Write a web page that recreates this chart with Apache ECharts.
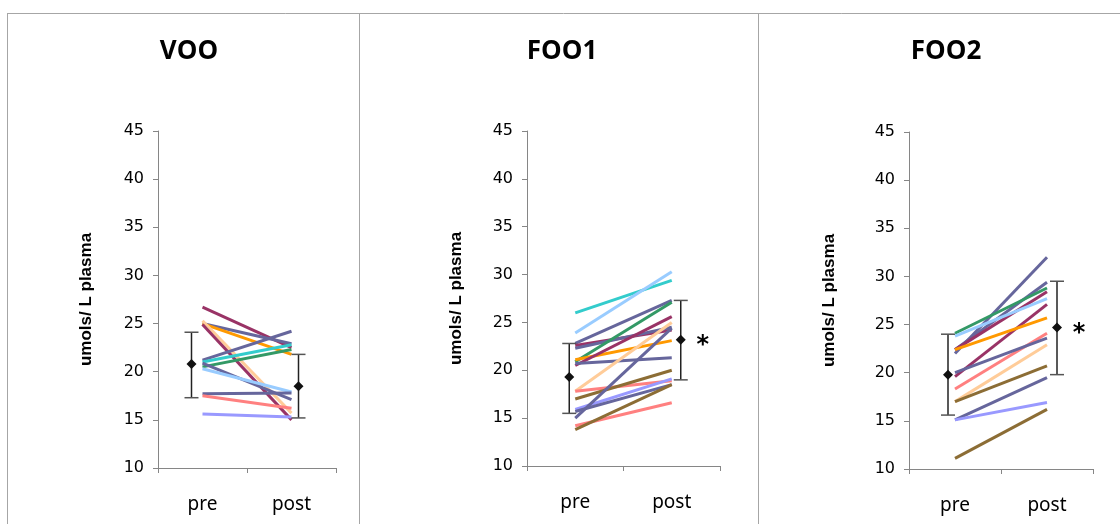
<!DOCTYPE html>
<html><head><meta charset="utf-8">
<script src="https://cdn.jsdelivr.net/npm/echarts@6/dist/echarts.min.js"></script>
<style>html,body{margin:0;padding:0;background:#fff}#c{width:1120px;height:524px}</style>
</head><body><div id="c"></div>
<script>
// ---- data ----
const categories = ['pre', 'post'];
const panelTitles = ['VOO', 'FOO1', 'FOO2'];
const yAxisName = 'umols/ L plasma';
const yMin = 10, yMax = 45, yStep = 5;

// VOO: individual subjects
const vooPre  = [26.7, 25.0, 25.0, 25.3, 24.9, 21.2, 21.0, 20.5, 20.9, 20.3, 17.7, 17.5, 15.6];
const vooPost = [22.5, 22.9, 21.8, 15.7, 15.0, 24.2, 22.8, 22.3, 17.1, 17.9, 17.8, 16.2, 15.3];
// FOO1
const foo1Pre  = [26.0, 23.9, 22.8, 22.6, 22.3, 20.9, 21.1, 20.5, 20.7, 17.8, 17.8, 17.0, 15.9, 15.7, 15.0, 14.2, 13.8];
const foo1Post = [29.4, 30.3, 27.3, 24.2, 24.5, 27.1, 23.1, 25.6, 21.3, 25.0, 18.9, 20.0, 19.1, 18.5, 24.4, 16.6, 18.5];
// FOO2
const foo2Pre  = [22.0, 22.4, 24.1, 22.4, 23.8, 19.6, 22.4, 18.3, 20.0, 17.0, 17.0, 15.1, 15.1, 11.1];
const foo2Post = [32.0, 29.4, 28.8, 28.4, 27.7, 27.1, 25.7, 24.1, 23.6, 22.9, 20.7, 19.5, 16.9, 16.2];

// group means with error bars [pre, post]
const vooMean  = [20.8, 18.5]; const vooLow  = [17.3, 15.2]; const vooHigh  = [24.1, 21.8];
const foo1Mean = [19.3, 23.2]; const foo1Low = [15.5, 19.0]; const foo1High = [22.8, 27.3];
const foo2Mean = [19.8, 24.7]; const foo2Low = [15.6, 19.8]; const foo2High = [24.0, 29.5];
const significantPost = [false, true, true];

// ---- styles ----
const C = {slate:'#66669c', maroon:'#993366', teal:'#33cccc', green:'#339966', orange:'#ff9900',
  peach:'#ffcc99', lblue:'#99ccff', salmon:'#ff8080', lav:'#9999ff', brown:'#8c6d35'};
const vooColors  = [C.maroon, C.slate, C.orange, C.peach, C.maroon, C.slate, C.teal, C.green, C.slate, C.lblue, C.slate, C.salmon, C.lav];
const foo1Colors = [C.teal, C.lblue, C.slate, C.maroon, C.slate, C.green, C.orange, C.maroon, C.slate, C.peach, C.salmon, C.brown, C.lav, C.slate, C.slate, C.salmon, C.brown];
const foo2Colors = [C.slate, C.slate, C.green, C.maroon, C.lblue, C.maroon, C.orange, C.salmon, C.slate, C.peach, C.brown, C.slate, C.lav, C.brown];

const panels = [
  {pre: vooPre, post: vooPost, colors: vooColors, mean: vooMean, low: vooLow, high: vooHigh},
  {pre: foo1Pre, post: foo1Post, colors: foo1Colors, mean: foo1Mean, low: foo1Low, high: foo1High},
  {pre: foo2Pre, post: foo2Post, colors: foo2Colors, mean: foo2Mean, low: foo2Low, high: foo2High}
];
const grids = [
  {left: 158, top: 131, width: 178, height: 337},
  {left: 527, top: 131, width: 193, height: 335},
  {left: 909, top: 132, width: 184, height: 337}
];
const titleX = [184, 557, 941];
const nameGaps = [63, 62, 71];
const barOffsets = [[-11, 7], [-6, 9], [-7, 10]];

const chart = echarts.init(document.getElementById('c'), null, {renderer: 'canvas'});
const axisGray = '#868686';

const xAxes = [], yAxes = [], series = [], titles = [];
panels.forEach((p, i) => {
  titles.push({text: panelTitles[i], left: titleX[i], top: 34, textAlign: 'center',
    textStyle: {fontFamily: 'Open Sans', fontWeight: 'bold', fontSize: 26, color: '#000'}});
  xAxes.push({type: 'category', gridIndex: i, data: categories, boundaryGap: true,
    axisLine: {lineStyle: {color: axisGray, width: 1}},
    axisTick: {show: true, length: 5, lineStyle: {color: axisGray}},
    axisLabel: {margin: 27, fontFamily: 'Noto Sans', fontSize: 19, color: '#000'},
    splitLine: {show: false}});
  yAxes.push({type: 'value', gridIndex: i, min: yMin, max: yMax, interval: yStep,
    name: yAxisName, nameLocation: 'middle', nameRotate: 90, nameGap: nameGaps[i],
    nameTextStyle: {fontFamily: 'Liberation Sans', fontWeight: 'bold', fontSize: 17, color: '#000'},
    axisLine: {show: true, lineStyle: {color: axisGray, width: 1}},
    axisTick: {show: true, length: 5, lineStyle: {color: axisGray}},
    axisLabel: {margin: 14, fontFamily: 'DejaVu Sans', fontSize: 16, color: '#000'},
    splitLine: {show: false}});
  p.pre.forEach((v, k) => {
    series.push({type: 'line', xAxisIndex: i, yAxisIndex: i, data: [v, p.post[k]],
      symbol: 'none', silent: true, animation: false,
      lineStyle: {color: p.colors[k], width: 3}, z: 2});
  });
  const ebData = categories.map((c, j) => [j, p.mean[j], p.low[j], p.high[j]]);
  series.push({type: 'custom', xAxisIndex: i, yAxisIndex: i, data: ebData, z: 5, animation: false,
    encode: {x: 0, y: 1},
    renderItem: function (params, api) {
      const j = api.value(0);
      const off = barOffsets[i][j];
      const pm = api.coord([j, api.value(1)]);
      const pl = api.coord([j, api.value(2)]);
      const ph = api.coord([j, api.value(3)]);
      const x = pm[0] + off;
      const children = [
        {type: 'line', shape: {x1: x, y1: ph[1], x2: x, y2: pl[1]}, style: {stroke: '#222', lineWidth: 1.5}},
        {type: 'line', shape: {x1: x - 7, y1: ph[1], x2: x + 7, y2: ph[1]}, style: {stroke: '#555', lineWidth: 1.5}},
        {type: 'line', shape: {x1: x - 7, y1: pl[1], x2: x + 7, y2: pl[1]}, style: {stroke: '#555', lineWidth: 1.5}},
        {type: 'polygon', shape: {points: [[x, pm[1] - 5], [x + 5, pm[1]], [x, pm[1] + 5], [x - 5, pm[1]]]},
          style: {fill: '#111'}}
      ];
      if (j === 1 && significantPost[i]) {
        children.push({type: 'text', x: x + 22, y: pm[1] + 6,
          style: {text: '*', fontFamily: 'DejaVu Sans', fontWeight: 'bold', fontSize: 24, fill: '#000',
            align: 'center', verticalAlign: 'middle'}});
      }
      return {type: 'group', children: children};
    }});
});

const borderGray = '#a6a6a6';
const option = {
  backgroundColor: '#fff',
  animation: false,
  title: titles,
  grid: grids,
  xAxis: xAxes,
  yAxis: yAxes,
  series: series,
  graphic: [
    {type: 'line', shape: {x1: 7, y1: 13.5, x2: 1120, y2: 13.5}, style: {stroke: borderGray, lineWidth: 1}},
    {type: 'line', shape: {x1: 7.5, y1: 13, x2: 7.5, y2: 524}, style: {stroke: borderGray, lineWidth: 1}},
    {type: 'line', shape: {x1: 359.5, y1: 13, x2: 359.5, y2: 524}, style: {stroke: borderGray, lineWidth: 1}},
    {type: 'line', shape: {x1: 758.5, y1: 13, x2: 758.5, y2: 524}, style: {stroke: borderGray, lineWidth: 1}}
  ]
};
chart.setOption(option);
</script></body></html>
